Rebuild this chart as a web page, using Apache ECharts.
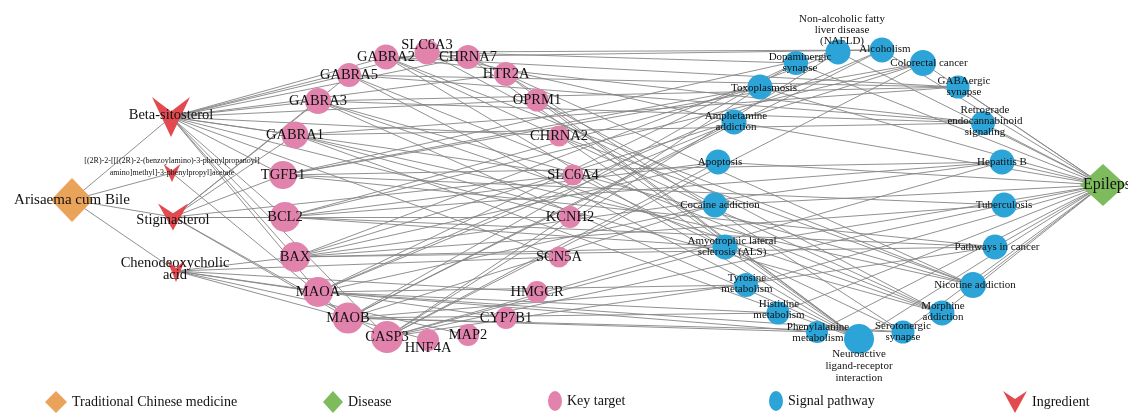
<!DOCTYPE html>
<html>
<head>
<meta charset="utf-8">
<title>Arisaema cum Bile – Epilepsy network</title>
<script src="https://cdn.jsdelivr.net/npm/echarts@6/dist/echarts.min.js"></script>
<style>
  html, body { margin: 0; padding: 0; background: #ffffff; }
  #chart { width: 1128px; height: 413px; }
</style>
</head>
<body>
<div id="chart"></div>
<script>
// ---- node groups ----
const medicine = ['Arisaema cum Bile'];
const disease = ['Epilepsy'];
const ingredients = [
  'Beta-sitosterol',
  '[(2R)-2-[[[(2R)-2-(benzoylamino)-3-phenylpropanoyl]amino]methyl]-3-phenylpropyl]acetate',
  'Stigmasterol',
  'Chenodeoxycholic acid'
];
const targets = [
  'SLC6A3', 'GABRA2', 'GABRA5', 'GABRA3', 'GABRA1', 'TGFB1', 'BCL2', 'BAX', 'MAOA', 'MAOB',
  'CASP3', 'HNF4A', 'MAP2', 'CYP7B1', 'HMGCR', 'SCN5A', 'KCNH2', 'SLC6A4', 'CHRNA2', 'OPRM1',
  'HTR2A', 'CHRNA7'
];
const pathways = [
  'Non-alcoholic fatty liver disease (NAFLD)', 'Alcoholism', 'Dopaminergic synapse',
  'Colorectal cancer', 'Toxoplasmosis', 'GABAergic synapse', 'Amphetamine addiction',
  'Retrograde endocannabinoid signaling', 'Apoptosis', 'Hepatitis B', 'Cocaine addiction',
  'Tuberculosis', 'Amyotrophic lateral sclerosis (ALS)', 'Pathways in cancer',
  'Tyrosine metabolism', 'Nicotine addiction', 'Histidine metabolism', 'Morphine addiction',
  'Phenylalanine metabolism', 'Serotonergic synapse', 'Neuroactive ligand-receptor interaction'
];

// ---- relations ----
const medicineIngredient = [
  ['Arisaema cum Bile', 'Beta-sitosterol'],
  ['Arisaema cum Bile', ingredients[1]],
  ['Arisaema cum Bile', 'Stigmasterol'],
  ['Arisaema cum Bile', 'Chenodeoxycholic acid']
];
const ingredientTarget = {
  'Beta-sitosterol': ['GABRA2', 'GABRA5', 'GABRA3', 'GABRA1', 'SLC6A3', 'CHRNA7', 'HTR2A', 'OPRM1',
    'CHRNA2', 'SLC6A4', 'KCNH2', 'SCN5A', 'BCL2', 'BAX', 'CASP3', 'MAOA', 'TGFB1'],
  '[(2R)-2-[[[(2R)-2-(benzoylamino)-3-phenylpropanoyl]amino]methyl]-3-phenylpropyl]acetate': ['MAOB'],
  'Stigmasterol': ['GABRA1', 'GABRA3', 'GABRA5', 'TGFB1', 'KCNH2', 'BCL2', 'MAOB', 'CASP3', 'SLC6A4'],
  'Chenodeoxycholic acid': ['MAOA', 'SCN5A', 'HMGCR', 'CYP7B1', 'MAP2', 'HNF4A', 'BAX']
};
const targetPathway = {
  'GABRA1': ['GABAergic synapse', 'Retrograde endocannabinoid signaling', 'Morphine addiction', 'Nicotine addiction', 'Neuroactive ligand-receptor interaction'],
  'GABRA2': ['GABAergic synapse', 'Retrograde endocannabinoid signaling', 'Morphine addiction', 'Nicotine addiction', 'Neuroactive ligand-receptor interaction', 'Alcoholism'],
  'GABRA3': ['GABAergic synapse', 'Retrograde endocannabinoid signaling', 'Morphine addiction', 'Nicotine addiction', 'Neuroactive ligand-receptor interaction'],
  'GABRA5': ['GABAergic synapse', 'Retrograde endocannabinoid signaling', 'Morphine addiction', 'Neuroactive ligand-receptor interaction'],
  'SLC6A3': ['Dopaminergic synapse', 'Cocaine addiction', 'Amphetamine addiction', 'Alcoholism'],
  'SLC6A4': ['Serotonergic synapse'],
  'CHRNA7': ['Nicotine addiction', 'Neuroactive ligand-receptor interaction'],
  'CHRNA2': ['Nicotine addiction', 'Neuroactive ligand-receptor interaction'],
  'HTR2A': ['Serotonergic synapse', 'Neuroactive ligand-receptor interaction'],
  'OPRM1': ['Morphine addiction', 'Neuroactive ligand-receptor interaction'],
  'TGFB1': ['Colorectal cancer', 'Hepatitis B', 'Pathways in cancer', 'Toxoplasmosis', 'Tuberculosis', 'Non-alcoholic fatty liver disease (NAFLD)'],
  'BCL2': ['Apoptosis', 'Amyotrophic lateral sclerosis (ALS)', 'Colorectal cancer', 'Hepatitis B', 'Pathways in cancer', 'Toxoplasmosis'],
  'BAX': ['Apoptosis', 'Amyotrophic lateral sclerosis (ALS)', 'Colorectal cancer', 'Hepatitis B', 'Pathways in cancer', 'Non-alcoholic fatty liver disease (NAFLD)', 'Tuberculosis'],
  'CASP3': ['Apoptosis', 'Amyotrophic lateral sclerosis (ALS)', 'Colorectal cancer', 'Hepatitis B', 'Pathways in cancer', 'Non-alcoholic fatty liver disease (NAFLD)', 'Toxoplasmosis', 'Tuberculosis'],
  'MAOA': ['Tyrosine metabolism', 'Histidine metabolism', 'Phenylalanine metabolism', 'Dopaminergic synapse', 'Serotonergic synapse', 'Cocaine addiction', 'Amphetamine addiction', 'Alcoholism'],
  'MAOB': ['Tyrosine metabolism', 'Histidine metabolism', 'Phenylalanine metabolism', 'Dopaminergic synapse', 'Serotonergic synapse', 'Cocaine addiction', 'Amphetamine addiction', 'Alcoholism']
};

// ---- legend / category names ----
const categoryNames = ['Traditional Chinese medicine', 'Disease', 'Key target', 'Signal pathway', 'Ingredient'];

// ---- drawing layout (canvas units), symbol sizes and label tweaks ----
const layout = {
  'Arisaema cum Bile': { p: [72, 200], s: [42, 44], fs: 15 },
  'Epilepsy': { p: [1103, 185], s: [46, 42], fs: 16, off: [8, 0] },
  'Beta-sitosterol': { p: [171, 117], s: [38, 40], fs: 14.5, off: [0, -2] },
  '[(2R)-2-[[[(2R)-2-(benzoylamino)-3-phenylpropanoyl]amino]methyl]-3-phenylpropyl]acetate':
    { p: [172, 173], s: [17, 18], fs: 8, lh: 12, off: [0, -6],
      text: '[(2R)-2-[[[(2R)-2-(benzoylamino)-3-phenylpropanoyl]\namino]methyl]-3-phenylpropyl]acetate' },
  'Stigmasterol': { p: [173, 217], s: [30, 27], fs: 14.5, off: [0, 3] },
  'Chenodeoxycholic acid': { p: [176, 271], s: [18, 22], fs: 14.5, lh: 12, off: [-1, -2],
    text: 'Chenodeoxycholic\nacid' },

  'SLC6A3': { p: [427, 52], s: 25, off: [0, -7] },
  'GABRA2': { p: [386, 57], s: 25 },
  'GABRA5': { p: [349, 75], s: 24 },
  'GABRA3': { p: [318, 101], s: 26 },
  'GABRA1': { p: [295, 135], s: 27 },
  'TGFB1': { p: [283, 175], s: 28 },
  'BCL2': { p: [285, 217], s: 30 },
  'BAX': { p: [295, 257], s: 30 },
  'MAOA': { p: [318, 292], s: 30 },
  'MAOB': { p: [348, 318], s: 31 },
  'CASP3': { p: [387, 337], s: 32 },
  'HNF4A': { p: [428, 340], s: 22, off: [0, 8] },
  'MAP2': { p: [468, 335], s: 22 },
  'CYP7B1': { p: [506, 318], s: 22 },
  'HMGCR': { p: [537, 292], s: 22 },
  'SCN5A': { p: [559, 257], s: 21 },
  'KCNH2': { p: [570, 217], s: 22 },
  'SLC6A4': { p: [573, 175], s: 21 },
  'CHRNA2': { p: [559, 136], s: 21 },
  'OPRM1': { p: [537, 100], s: 23 },
  'HTR2A': { p: [506, 74], s: 24 },
  'CHRNA7': { p: [468, 57], s: 24 },

  'Non-alcoholic fatty liver disease (NAFLD)': { p: [838, 52], s: 25, off: [4, -22],
    text: 'Non-alcoholic fatty\nliver disease\n(NAFLD)' },
  'Alcoholism': { p: [882, 50], s: 25, off: [3, -1] },
  'Dopaminergic synapse': { p: [796, 63], s: 24, off: [4, 0], text: 'Dopaminergic\nsynapse' },
  'Colorectal cancer': { p: [923, 63], s: 26, off: [6, 0] },
  'Toxoplasmosis': { p: [760, 87], s: 25, off: [4, 1] },
  'GABAergic synapse': { p: [958, 87], s: 23, off: [6, 0], text: 'GABAergic\nsynapse' },
  'Amphetamine addiction': { p: [734, 122], s: 25, off: [2, 0], text: 'Amphetamine\naddiction' },
  'Retrograde endocannabinoid signaling': { p: [983, 123], s: 24, off: [2, -2],
    text: 'Retrograde\nendocannabinoid\nsignaling' },
  'Apoptosis': { p: [718, 162], s: 25, off: [2, 0] },
  'Hepatitis B': { p: [1002, 162], s: 25 },
  'Cocaine addiction': { p: [715, 205], s: 25, off: [5, 0] },
  'Tuberculosis': { p: [1004, 205], s: 25 },
  'Amyotrophic lateral sclerosis (ALS)': { p: [725, 247], s: 25, off: [7, 0],
    text: 'Amyotrophic lateral\nsclerosis (ALS)' },
  'Pathways in cancer': { p: [995, 247], s: 25, off: [2, 0] },
  'Tyrosine metabolism': { p: [746, 285], s: 24, off: [1, -1], text: 'Tyrosine\nmetabolism' },
  'Nicotine addiction': { p: [973, 285], s: 26, off: [2, 0] },
  'Histidine metabolism': { p: [778, 313], s: 23, off: [1, -3], text: 'Histidine\nmetabolism' },
  'Morphine addiction': { p: [942, 313], s: 25, off: [1, -1], text: 'Morphine\naddiction' },
  'Phenylalanine metabolism': { p: [817, 332], s: 22, off: [1, 1], text: 'Phenylalanine\nmetabolism' },
  'Serotonergic synapse': { p: [903, 332], s: 23, text: 'Serotonergic\nsynapse' },
  'Neuroactive ligand-receptor interaction': { p: [859, 339], s: 30, off: [0, 27], lh: 12,
    text: 'Neuroactive\nligand-receptor\ninteraction' }
};

const COLORS = ['#EAA35B', '#7DBB5C', '#E283AE', '#2CA4D8', '#E24A50'];
const V_PATH = 'path://M0,0 L50,36 L100,0 L50,100 Z';
const ELLIPSE_PATH = 'path://M50,0 A50,50 0 1,1 50,100 A50,50 0 1,1 50,0 Z';
const FONT = '"Liberation Serif", "Times New Roman", serif';

function makeNode(name, cat) {
  const l = layout[name];
  const symbol = cat === 0 || cat === 1 ? 'diamond' : cat === 4 ? V_PATH : 'circle';
  const defFs = cat === 3 ? 11 : 14.5;
  return {
    name: name,
    value: l.p,
    category: cat,
    symbol: symbol,
    symbolSize: l.s,
    label: {
      show: true,
      position: 'inside',
      offset: l.off || [0, 0],
      fontFamily: FONT,
      fontSize: l.fs || defFs,
      lineHeight: l.lh || (cat === 3 ? 11 : Math.round((l.fs || defFs) * 1.1)),
      color: '#111',
      formatter: l.text || name
    }
  };
}

const nodes = []
  .concat(medicine.map(n => makeNode(n, 0)))
  .concat(ingredients.map(n => makeNode(n, 4)))
  .concat(targets.map(n => makeNode(n, 2)))
  .concat(pathways.map(n => makeNode(n, 3)))
  .concat(disease.map(n => makeNode(n, 1)));

const links = [];
medicineIngredient.forEach(([a, b]) => links.push({ source: a, target: b }));
Object.keys(ingredientTarget).forEach(a => ingredientTarget[a].forEach(b => links.push({ source: a, target: b })));
Object.keys(targetPathway).forEach(a => targetPathway[a].forEach(b => links.push({ source: a, target: b })));
pathways.forEach(p => links.push({ source: p, target: 'Epilepsy' }));

const legendIcons = ['diamond', 'diamond', ELLIPSE_PATH, ELLIPSE_PATH, V_PATH];
const legendLeft = [45, 323, 548, 769, 1003];
const legendSize = [[22, 22], [20, 22], [14, 20], [14, 20], [24, 22]];

const chart = echarts.init(document.getElementById('chart'), null, { renderer: 'canvas' });
chart.setOption({
  backgroundColor: '#ffffff',
  animation: false,
  grid: { left: 0, right: 0, top: 0, bottom: 0, containLabel: false },
  xAxis: { type: 'value', min: 0, max: 1128, show: false },
  yAxis: { type: 'value', min: 0, max: 413, inverse: true, show: false },
  legend: categoryNames.map((name, i) => ({
    data: [{ name: name, icon: legendIcons[i] }],
    left: legendLeft[i],
    top: 391,
    padding: 0,
    itemWidth: legendSize[i][0],
    itemHeight: legendSize[i][1],
    symbolKeepAspect: false,
    selectedMode: false,
    textStyle: { fontFamily: FONT, fontSize: 14, color: '#111' }
  })),
  series: [{
    type: 'graph',
    coordinateSystem: 'cartesian2d',
    layout: 'none',
    roam: false,
    silent: true,
    categories: categoryNames.map((n, i) => ({ name: n, itemStyle: { color: COLORS[i] } })),
    data: nodes,
    links: links,
    lineStyle: { color: '#858585', width: 0.9, opacity: 1, curveness: 0 },
    itemStyle: { borderWidth: 0 },
    emphasis: { disabled: true }
  }]
});
</script>
</body>
</html>
